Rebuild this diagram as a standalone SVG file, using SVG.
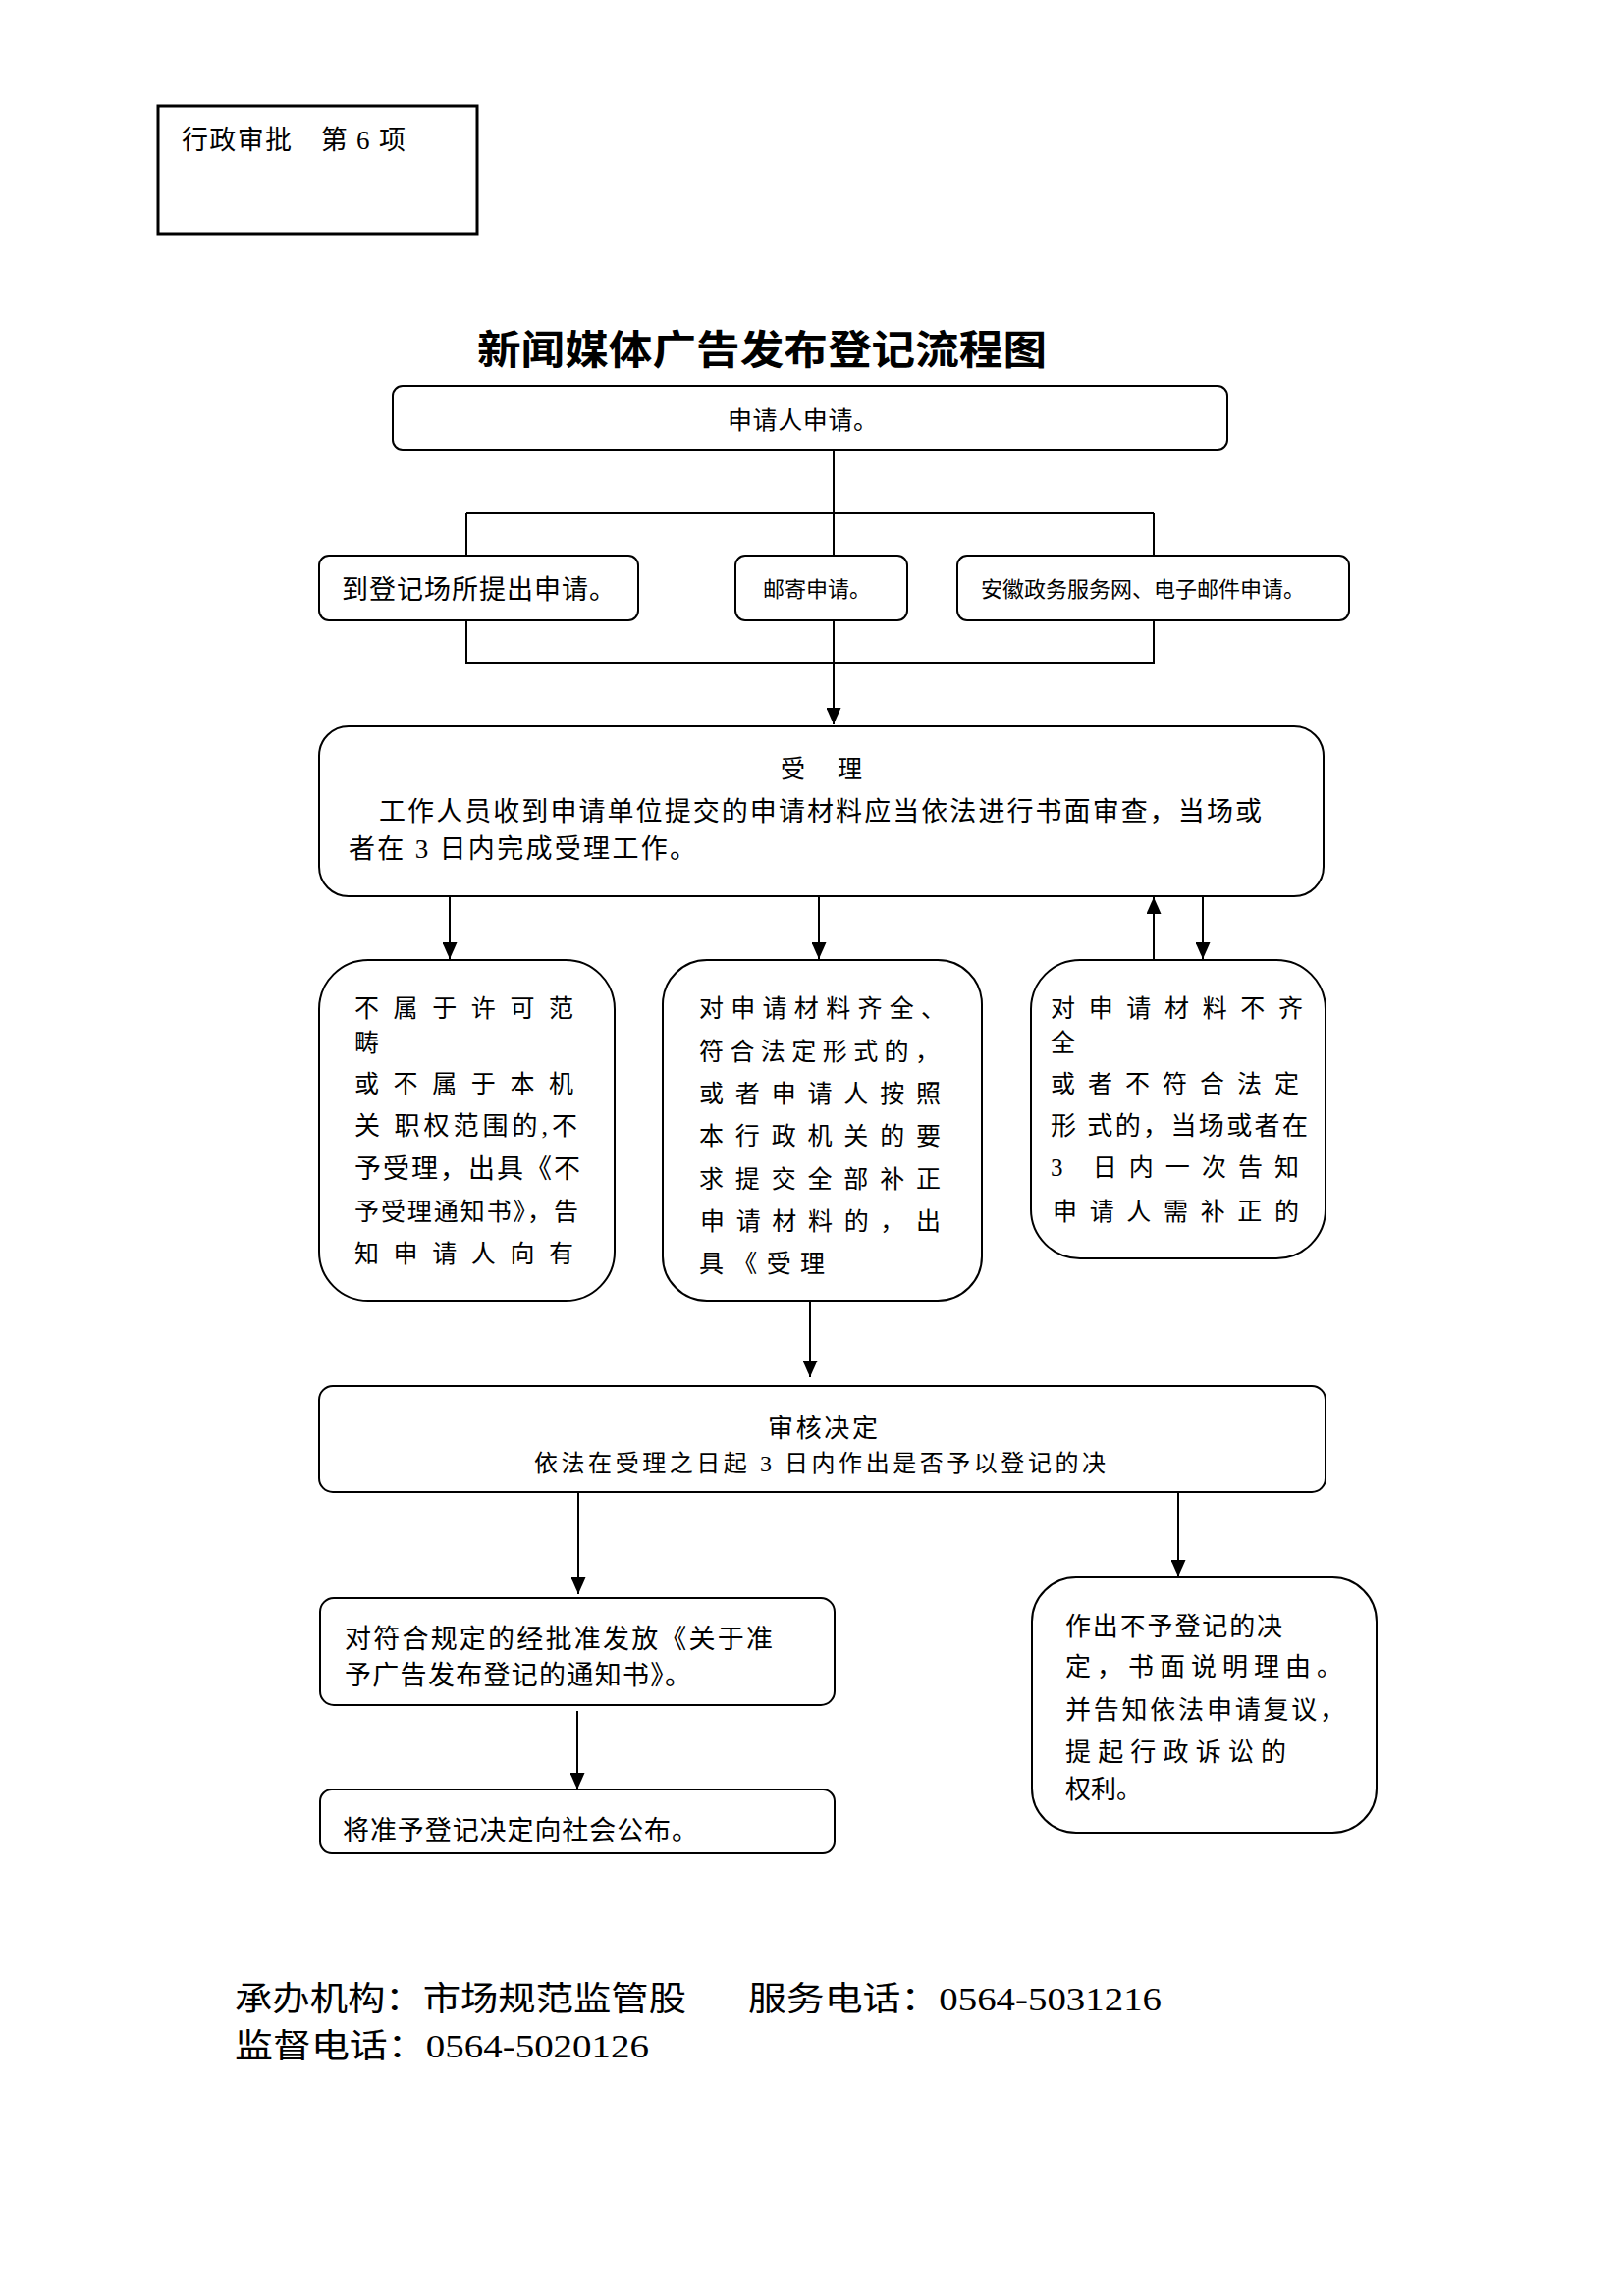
<svg xmlns="http://www.w3.org/2000/svg" width="1654" height="2339" viewBox="0 0 1654 2339">
<defs>
<style>
.bx{fill:#fff;stroke:#000;stroke-width:2}
.t{font-family:"Liberation Serif","Noto Sans CJK SC",serif;fill:#000}
.c{fill:none;stroke:#000;stroke-width:2}
</style>
<marker id="ah" viewBox="0 0 17 15" refX="17" refY="7.5" markerWidth="17" markerHeight="15" markerUnits="userSpaceOnUse" orient="auto">
<path d="M0,0 L17,7.5 L0,15 z" fill="#000"/>
</marker>
</defs>
<rect width="1654" height="2339" fill="#fff"/>

<g id="header">
<rect x="161" y="108" width="325" height="130" fill="#fff" stroke="#000" stroke-width="3"/>
<text class="t" x="185" y="152" font-size="27" textLength="228" lengthAdjust="spacing">行政审批　第 6 项</text>
</g>

<g id="title">
<text class="t" x="486" y="371" font-size="41" font-weight="bold" textLength="580" lengthAdjust="spacingAndGlyphs">新闻媒体广告发布登记流程图</text>
</g>

<g id="connectors">
<path class="c" d="M849,458 V566"/>
<path class="c" d="M849,632 V738" marker-end="url(#ah)"/>
<path class="c" d="M475,523 H1175 M475,523 V566 M1175,523 V566"/>
<path class="c" d="M475,632 V675 H1175 V632"/>
<path class="c" d="M458,913 V977" marker-end="url(#ah)"/>
<path class="c" d="M834,913 V977" marker-end="url(#ah)"/>
<path class="c" d="M1225,913 V977" marker-end="url(#ah)"/>
<path class="c" d="M1175,978 V914" marker-end="url(#ah)"/>
<path class="c" d="M825,1325 V1403" marker-end="url(#ah)"/>
<path class="c" d="M589,1520 V1624" marker-end="url(#ah)"/>
<path class="c" d="M1200,1520 V1606" marker-end="url(#ah)"/>
<path class="c" d="M588,1743 V1823" marker-end="url(#ah)"/>
</g>

<g id="apply">
<rect class="bx" x="400" y="393" width="850" height="65" rx="10"/>
<text class="t" x="741" y="437" font-size="25" textLength="153" lengthAdjust="spacing">申请人申请。</text>
</g>

<g id="onsite">
<rect class="bx" x="325" y="566" width="325" height="66" rx="10"/>
<text class="t" x="348" y="610" font-size="27" textLength="279" lengthAdjust="spacing">到登记场所提出申请。</text>
</g>

<g id="mail">
<rect class="bx" x="749" y="566" width="175" height="66" rx="10"/>
<text class="t" x="777" y="608" font-size="22" textLength="110" lengthAdjust="spacing">邮寄申请。</text>
</g>

<g id="online">
<rect class="bx" x="975" y="566" width="399" height="66" rx="10"/>
<text class="t" x="999" y="608" font-size="22" textLength="330" lengthAdjust="spacing">安徽政务服务网、电子邮件申请。</text>
</g>

<g id="accept">
<rect class="bx" x="325" y="740" width="1023" height="173" rx="30"/>
<text class="t" x="795" y="792" font-size="25" textLength="83" lengthAdjust="spacing">受　理</text>
<text class="t" x="386" y="836" font-size="27" textLength="899" lengthAdjust="spacing">工作人员收到申请单位提交的申请材料应当依法进行书面审查，当场或</text>
<text class="t" x="355" y="874" font-size="27" textLength="354" lengthAdjust="spacing">者在 3 日内完成受理工作。</text>
</g>

<g id="reject">
<rect class="bx" x="325" y="978" width="301" height="347" rx="50"/>
<text class="t" x="361" y="1036" font-size="25" textLength="223" lengthAdjust="spacing">不属于许可范</text>
<text class="t" x="361" y="1071" font-size="25">畴</text>
<text class="t" x="361" y="1113" font-size="25" textLength="223" lengthAdjust="spacing">或不属于本机</text>
<text class="t" x="361" y="1156" font-size="26" textLength="227" lengthAdjust="spacing">关 职权范围的,不</text>
<text class="t" x="361" y="1200" font-size="27" textLength="230" lengthAdjust="spacing">予受理，出具《不</text>
<text class="t" x="361" y="1243" font-size="25" textLength="228" lengthAdjust="spacing">予受理通知书》，告</text>
<text class="t" x="361" y="1286" font-size="25" textLength="223" lengthAdjust="spacing">知申请人向有</text>
</g>

<g id="acceptNotice">
<rect class="bx" x="675" y="978" width="325" height="347" rx="45"/>
<text class="t" x="712" y="1036" font-size="25" textLength="251" lengthAdjust="spacing">对申请材料齐全、</text>
<text class="t" x="712" y="1080" font-size="25" textLength="245" lengthAdjust="spacing">符合法定形式的，</text>
<text class="t" x="712" y="1123" font-size="25" textLength="246" lengthAdjust="spacing">或者申请人按照</text>
<text class="t" x="712" y="1166" font-size="25" textLength="246" lengthAdjust="spacing">本行政机关的要</text>
<text class="t" x="712" y="1210" font-size="25" textLength="246" lengthAdjust="spacing">求提交全部补正</text>
<text class="t" x="713" y="1253" font-size="25" textLength="245" lengthAdjust="spacing">申请材料的，出</text>
<text class="t" x="712" y="1296" font-size="25" textLength="128" lengthAdjust="spacing">具《受理</text>
</g>

<g id="supplement">
<rect class="bx" x="1050" y="978" width="300" height="304" rx="50"/>
<text class="t" x="1070" y="1036" font-size="25" textLength="257" lengthAdjust="spacing">对申请材料不齐</text>
<text class="t" x="1070" y="1071" font-size="25">全</text>
<text class="t" x="1070" y="1113" font-size="25" textLength="253" lengthAdjust="spacing">或者不符合法定</text>
<text class="t" x="1070" y="1156" font-size="26" textLength="262" lengthAdjust="spacing">形 式的，当场或者在</text>
<text class="t" x="1070" y="1198" font-size="25" textLength="253" lengthAdjust="spacing">3 日内一次告知</text>
<text class="t" x="1072" y="1243" font-size="25" textLength="251" lengthAdjust="spacing">申请人需补正的</text>
</g>

<g id="review">
<rect class="bx" x="325" y="1412" width="1025" height="108" rx="14"/>
<text class="t" x="782" y="1464" font-size="26" textLength="112" lengthAdjust="spacing">审核决定</text>
<text class="t" x="544" y="1499" font-size="24" textLength="582" lengthAdjust="spacing">依法在受理之日起 3 日内作出是否予以登记的决</text>
</g>

<g id="approve">
<rect class="bx" x="326" y="1628" width="524" height="109" rx="14"/>
<text class="t" x="351" y="1679" font-size="27" textLength="436" lengthAdjust="spacing">对符合规定的经批准发放《关于准</text>
<text class="t" x="351" y="1716" font-size="27" textLength="353" lengthAdjust="spacing">予广告发布登记的通知书》。</text>
</g>

<g id="publish">
<rect class="bx" x="326" y="1823" width="524" height="65" rx="12"/>
<text class="t" x="349" y="1874" font-size="27" textLength="362" lengthAdjust="spacing">将准予登记决定向社会公布。</text>
</g>

<g id="deny">
<rect class="bx" x="1051" y="1607" width="351" height="260" rx="45"/>
<text class="t" x="1085" y="1666" font-size="26" textLength="221" lengthAdjust="spacing">作出不予登记的决</text>
<text class="t" x="1085" y="1707" font-size="26" textLength="282" lengthAdjust="spacing">定，书面说明理由。</text>
<text class="t" x="1085" y="1751" font-size="26" textLength="285" lengthAdjust="spacing">并告知依法申请复议，</text>
<text class="t" x="1085" y="1794" font-size="26" textLength="225" lengthAdjust="spacing">提起行政诉讼的</text>
<text class="t" x="1085" y="1832" font-size="26">权利。</text>
</g>

<g id="footer">
<text class="t" x="239" y="2048" font-size="34" textLength="460" lengthAdjust="spacingAndGlyphs">承办机构：市场规范监管股</text>
<text class="t" x="762" y="2048" font-size="34" textLength="421" lengthAdjust="spacingAndGlyphs">服务电话：0564-5031216</text>
<text class="t" x="239" y="2096" font-size="34" textLength="422" lengthAdjust="spacingAndGlyphs">监督电话：0564-5020126</text>
</g>
</svg>
